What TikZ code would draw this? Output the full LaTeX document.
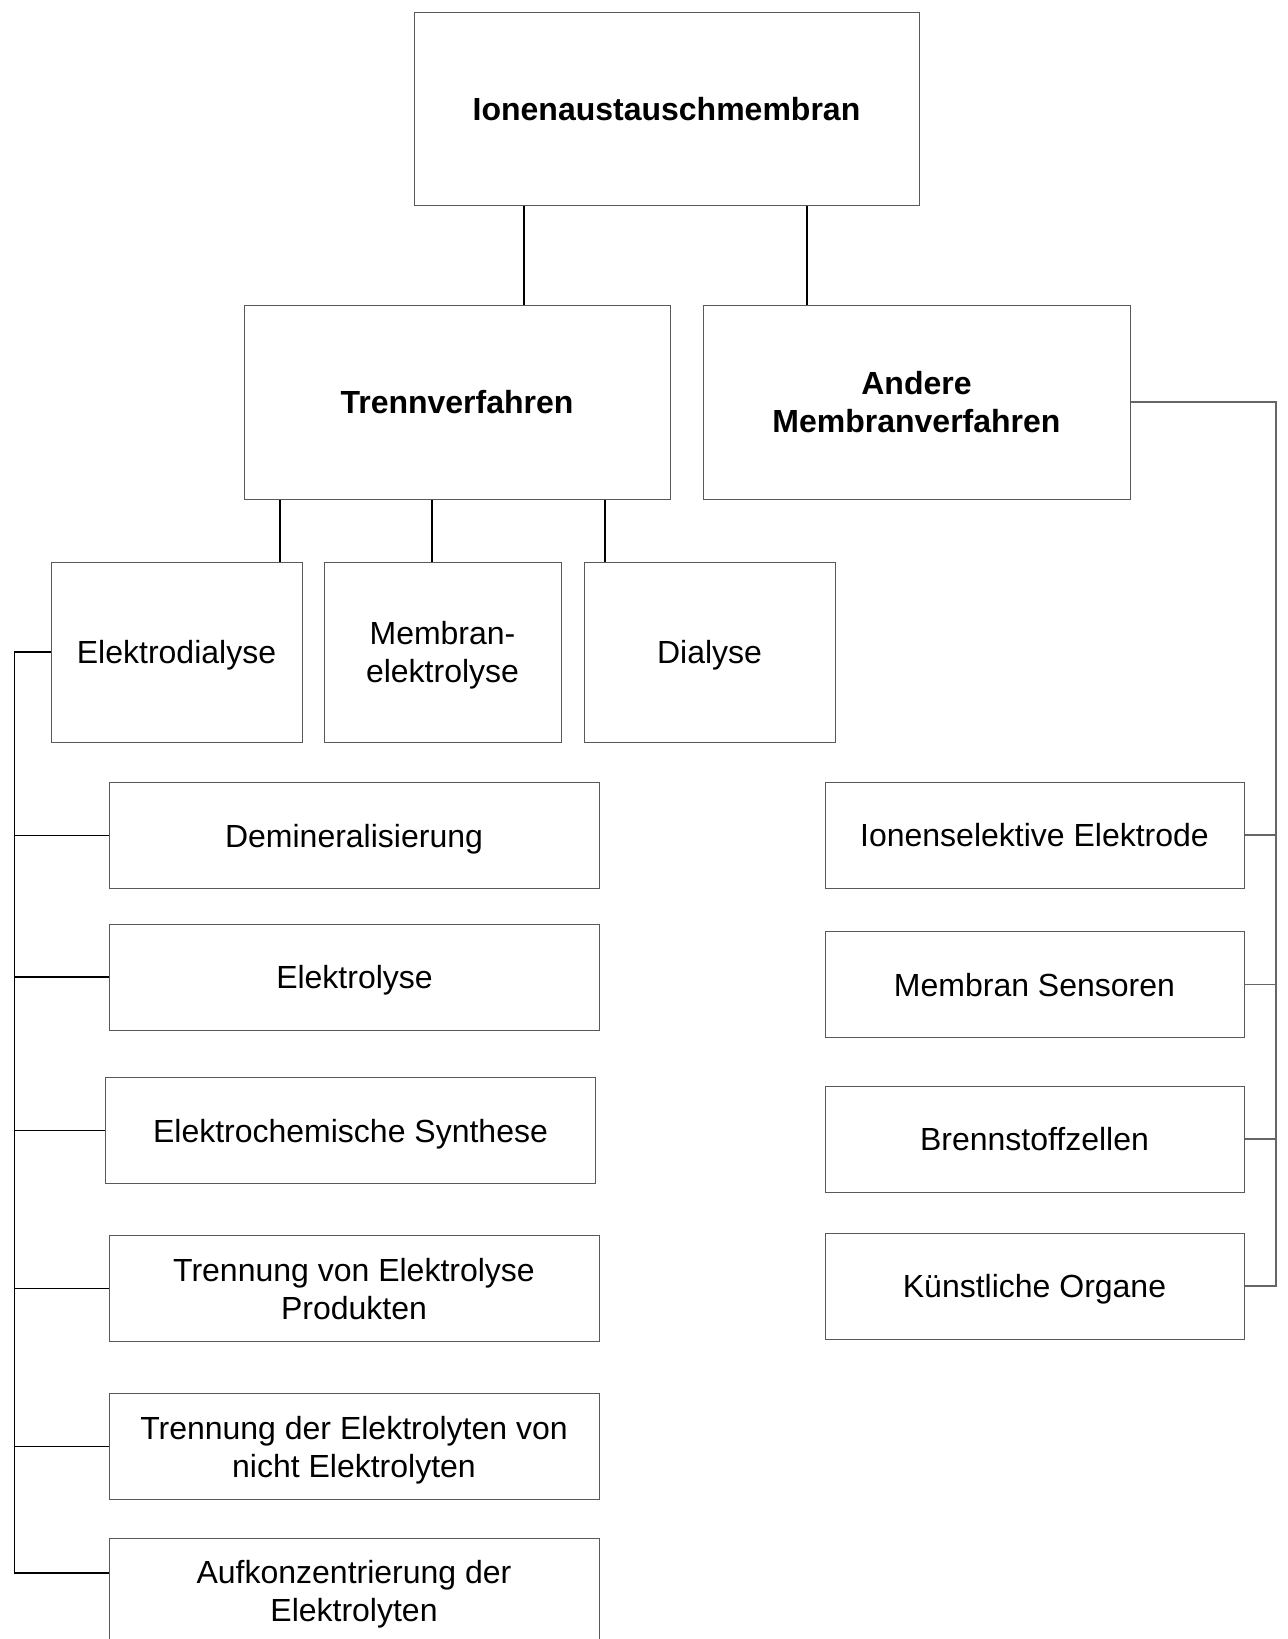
\documentclass[tikz,border=0pt]{standalone}
\usepackage{fontspec}
\setmainfont{Liberation Sans}

\begin{document}
\begin{tikzpicture}[x=0.5pt, y=-0.5pt,
	every node/.style={font=\fontsize{16}{19}\selectfont, align=center, text depth=0pt},
	box/.style={draw=black!65, line width=0.5pt, fill=white, inner sep=2pt},
	lbox/.style={box, minimum width=245pt, minimum height=53pt},
	rbox/.style={box, minimum width=209.5pt, minimum height=53pt},
	link/.style={draw=black, line width=0.6pt},
	rlink/.style={draw=black!60, line width=0.6pt}]
				\useasboundingbox (0,0) rectangle (1288,1639);

				% Upper levels
				\node[box, minimum width=252.5pt, minimum height=96.5pt, font=\fontsize{16}{19}\selectfont\bfseries] (ion) at (666.5,108.5) {Ionenaustauschmembran};
				\node[box, minimum width=213pt, minimum height=97pt, font=\fontsize{16}{19}\selectfont\bfseries] (trenn) at (457,402) {Trennverfahren};
				\node[box, minimum width=213.5pt, minimum height=97pt, font=\fontsize{16}{19}\selectfont\bfseries] (andere) at (916.5,402) {Andere\\Membranverfahren};

				% Trennverfahren
				\node[box, minimum width=125.5pt, minimum height=90pt] (edial) at (176.5,652) {Elektrodialyse};
				\node[box, minimum width=118.5pt, minimum height=90pt] (melyse) at (442.5,652) {Membran-\\elektrolyse};
				\node[box, minimum width=125.5pt, minimum height=90pt] (dial) at (709.5,652) {Dialyse};

				% Elektrodialyse
				\node[lbox] (demin) at (354,835.5) {Demineralisierung};
				\node[lbox] (elyse) at (354.5,977) {Elektrolyse};
				\node[lbox] (synth) at (350.5,1130.5) {Elektrochemische Synthese};
				\node[lbox] (trvon) at (354,1288.5) {Trennung von Elektrolyse\\Produkten};
				\node[lbox] (trder) at (354,1446.5) {Trennung der Elektrolyten von\\nicht Elektrolyten};
				\node[lbox] (aufk) at (354,1591) {Aufkonzentrierung der\\Elektrolyten};

				% Andere Membranverfahren
				\node[rbox] (isel) at (1034.5,835) {Ionenselektive Elektrode};
				\node[rbox] (msens) at (1034.5,984.5) {Membran Sensoren};
				\node[rbox] (brenn) at (1034.5,1139) {Brennstoffzellen};
				\node[rbox] (korg) at (1034.5,1286) {Künstliche Organe};

				% Connectors
				\draw[link] (ion.south -| 524,0) -- (trenn.north -| 524,0);
				\draw[link] (ion.south -| 807,0) -- (andere.north -| 807,0);
				\draw[link] (trenn.south -| 280,0) -- (edial.north -| 280,0);
				\draw[link] (trenn.south -| 432,0) -- (melyse.north -| 432,0);
				\draw[link] (trenn.south -| 605,0) -- (dial.north -| 605,0);

				% Left bracket
				\coordinate (lbar) at (14.5,0);
				\draw[link, line width=0.8pt] (edial.west) -| ([yshift=9pt]aufk.west -| lbar) -- ([yshift=9pt]aufk.west);
				\foreach \n in {demin,elyse,synth,trvon,trder}
					\draw[link] (\n.west -| lbar) -- (\n.west);

				% Right bracket
				\coordinate (rbar) at (1276,0);
				\draw[rlink] (andere.east) -| (korg.east -| rbar) -- (korg.east);
				\foreach \n in {isel,msens,brenn}
					\draw[rlink] (\n.east -| rbar) -- (\n.east);
\end{tikzpicture}
\end{document}
